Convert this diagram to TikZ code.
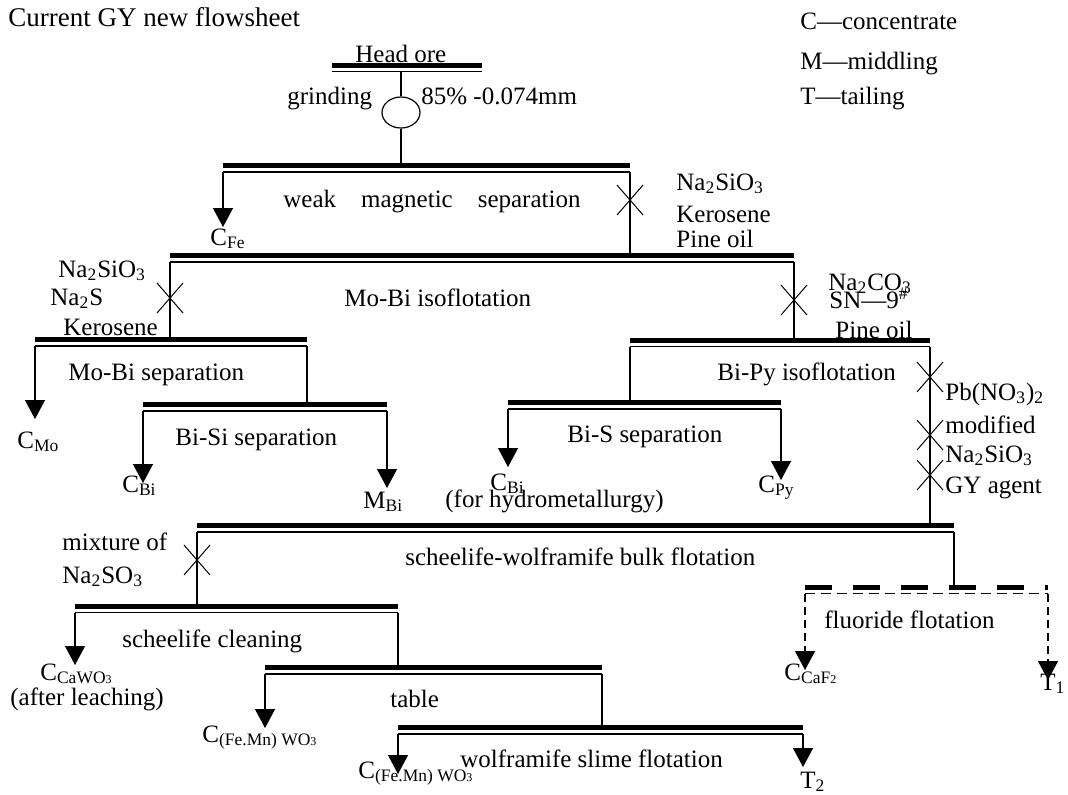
\documentclass[tikz,border=0pt]{standalone}
\usepackage{fontspec}
\setmainfont{Liberation Serif}
\usetikzlibrary{arrows.meta, shapes.geometric}

\newcommand{\tinynum}[1]{{\fontsize{6}{7}\selectfont #1}}

\begin{document}
\begin{tikzpicture}[
    x=0.5pt, y=-0.5pt,
    txt/.style={anchor=base west, inner sep=0pt, font=\fontsize{12.5}{15}\selectfont},
    thickbar/.style={line width=2.5pt},
    thinbar/.style={line width=0.7pt},
    feed/.style={line width=0.6pt},
    flow/.style={line width=0.6pt, -{Triangle[length=9.5pt, width=10pt]}},
    dflow/.style={flow, dash pattern=on 4pt off 2.5pt},
    xmark/.pic={\draw[line width=0.5pt] (-13,-15) -- (13,15) (-13,15) -- (13,-15);}
]
\useasboundingbox (0,0) rectangle (1068,794);

% stage bars: thick line over a thin one
\foreach \n/\xa/\xb/\y in {head/332/482/65, wm/223/630/165.5, mb/170/794/255.5,
    ms/35/307/339.5, bp/630/930/340, bisi/143/387/404.5, bis/508/781/402.5,
    bulk/197/954/525.5, sc/75/398/606, tab/265/602/667.5, sl/398/803/727.5}{
  \coordinate (\n-l) at (\xa,\y);
  \coordinate (\n-r) at (\xb,\y);
  \coordinate (\n-bl) at (\xa,\y+6.5);
  \coordinate (\n-br) at (\xb,\y+6.5);
  \draw[thickbar] (\n-l) -- (\n-r);
  \draw[thinbar] (\n-bl) -- (\n-br);
}
\coordinate (fl-l) at (805,587);
\coordinate (fl-r) at (1048,587);
\coordinate (fl-bl) at (805,593.5);
\coordinate (fl-br) at (1048,593.5);
\draw[thickbar, dash pattern=on 13.5pt off 10.5pt] (fl-l) -- (fl-r);
\draw[thinbar, dash pattern=on 5pt off 3pt] (fl-bl) -- (fl-br);

% grinding
\node[draw, ellipse, line width=0.6pt, minimum width=19pt, minimum height=15.5pt, inner sep=0pt] (mill) at (401,112.5) {};
\draw[feed] (mill.north |- head-bl) -- (mill.north);
\draw[feed] (mill.south) -- (mill.south |- wm-l);

% feeds between stages
\draw[feed] (wm-br) -- (wm-br |- mb-l);
\draw[feed] (mb-bl) -- (mb-bl |- ms-l);
\draw[feed] (mb-br) -- (mb-br |- bp-l);
\draw[feed] (ms-br) -- (ms-br |- bisi-l);
\draw[feed] (bp-bl) -- (bp-bl |- bis-l);
\draw[feed] (bp-br) -- (bp-br |- bulk-l);
\draw[feed] (bulk-bl) -- (bulk-bl |- sc-l);
\draw[feed] (bulk-br) -- (bulk-br |- fl-l);
\draw[feed] (sc-br) -- (sc-br |- tab-l);
\draw[feed] (tab-br) -- (tab-br |- sl-l);

% products
\foreach \b/\t/\y in {wm-bl/fe/227, ms-bl/mo/419, bisi-bl/bi/483, bisi-br/mbi/488,
    bis-bl/bih/467, bis-br/py/480, sc-bl/ca/665, tab-bl/fm1/728, sl-bl/fm2/774, sl-br/t2/767}{
  \coordinate (tip-\t) at (\b |- 0,\y);
  \draw[flow] (\b) -- (tip-\t);
}
\coordinate (tip-caf) at (fl-bl |- 0,670);
\coordinate (tip-t1) at (fl-br |- 0,680);
\draw[dflow] (fl-bl) -- (tip-caf);
\draw[dflow] (fl-br) -- (tip-t1);

% reagent additions
\foreach \p in {(630,200), (170,298), (794,300), (930,377), (930,435), (930,475), (197,560)}
  \pic at \p {xmark};

% texts
\node[txt, font=\fontsize{13.5}{16}\selectfont] (title) at (8,26) {Current GY new flowsheet};
\node[txt] (lgc) at (800,29) {C—concentrate};
\node[txt] (lgm) at (800,69) {M—middling};
\node[txt] (lgt) at (800,104) {T—tailing};
\node[txt] (headore) at (355,62) {Head ore};
\node[txt] (grind) at (287,104) {grinding};
\node[txt] (size) at (421,104) {85\% -0.074mm};
\node[txt] (wmtxt) at (283,207) {weak\quad magnetic\quad separation};
\node[txt] (cfe) at (210,245) {C\textsubscript{Fe}};
\node[txt] (ra1) at (676,190) {Na\textsubscript{2}SiO\textsubscript{3}};
\node[txt] (ra2) at (676,222) {Kerosene};
\node[txt] (ra3) at (676,247) {Pine oil};
\node[txt] (rb1) at (58,277) {Na\textsubscript{2}SiO\textsubscript{3}};
\node[txt] (rb2) at (50,305) {Na\textsubscript{2}S};
\node[txt] (rb3) at (63,335) {Kerosene};
\node[txt] (mbtxt) at (344,306) {Mo-Bi isoflotation};
\node[txt] (rc1) at (828,290) {Na\textsubscript{2}CO\textsubscript{3}};
\node[txt] (rc2) at (829,308) {SN—9\textsuperscript{\#}};
\node[txt] (rc3) at (835,338) {Pine oil};
\node[txt] (mstxt) at (68,380) {Mo-Bi separation};
\node[txt] (bptxt) at (717,380) {Bi-Py isoflotation};
\node[txt] (rd1) at (945,400) {Pb(NO\textsubscript{3})\textsubscript{2}};
\node[txt] (rd2) at (945,433) {modified};
\node[txt] (rd3) at (945,462) {Na\textsubscript{2}SiO\textsubscript{3}};
\node[txt] (rd4) at (945,493) {GY agent};
\node[txt] (cmo) at (17,448) {C\textsubscript{Mo}};
\node[txt] (bisitxt) at (175,445) {Bi-Si separation};
\node[txt] (bistxt) at (567,442) {Bi-S separation};
\node[txt] (cbi) at (122,492) {C\textsubscript{Bi}};
\node[txt] (mbi) at (363,508) {M\textsubscript{Bi}};
\node[txt] (cbih) at (490,490) {C\textsubscript{Bi}};
\node[txt] (hydro) at (445,507) {(for hydrometallurgy)};
\node[txt] (cpy) at (758,492) {C\textsubscript{Py}};
\node[txt] (re1) at (62,550) {mixture of};
\node[txt] (re2) at (62,583) {Na\textsubscript{2}SO\textsubscript{3}};
\node[txt] (bulktxt) at (405,565) {scheelife-wolframife bulk flotation};
\node[txt] (fltxt) at (824,628) {fluoride flotation};
\node[txt] (ccaf) at (784,680) {C\textsubscript{CaF\tinynum{2}}};
\node[txt] (t1) at (1040,690) {T\textsubscript{1}};
\node[txt] (sctxt) at (122,647) {scheelife cleaning};
\node[txt] (cca) at (40,680) {C\textsubscript{CaWO\tinynum{3}}};
\node[txt] (leach) at (10,705) {(after leaching)};
\node[txt] (tabtxt) at (390,707) {table};
\node[txt] (cfm1) at (202,742) {C\textsubscript{(Fe.Mn) WO\tinynum{3}}};
\node[txt] (sltxt) at (460,767) {wolframife slime flotation};
\node[txt] (cfm2) at (358,778) {C\textsubscript{(Fe.Mn) WO\tinynum{3}}};
\node[txt] (t2) at (800,788) {T\textsubscript{2}};

\end{tikzpicture}
\end{document}
